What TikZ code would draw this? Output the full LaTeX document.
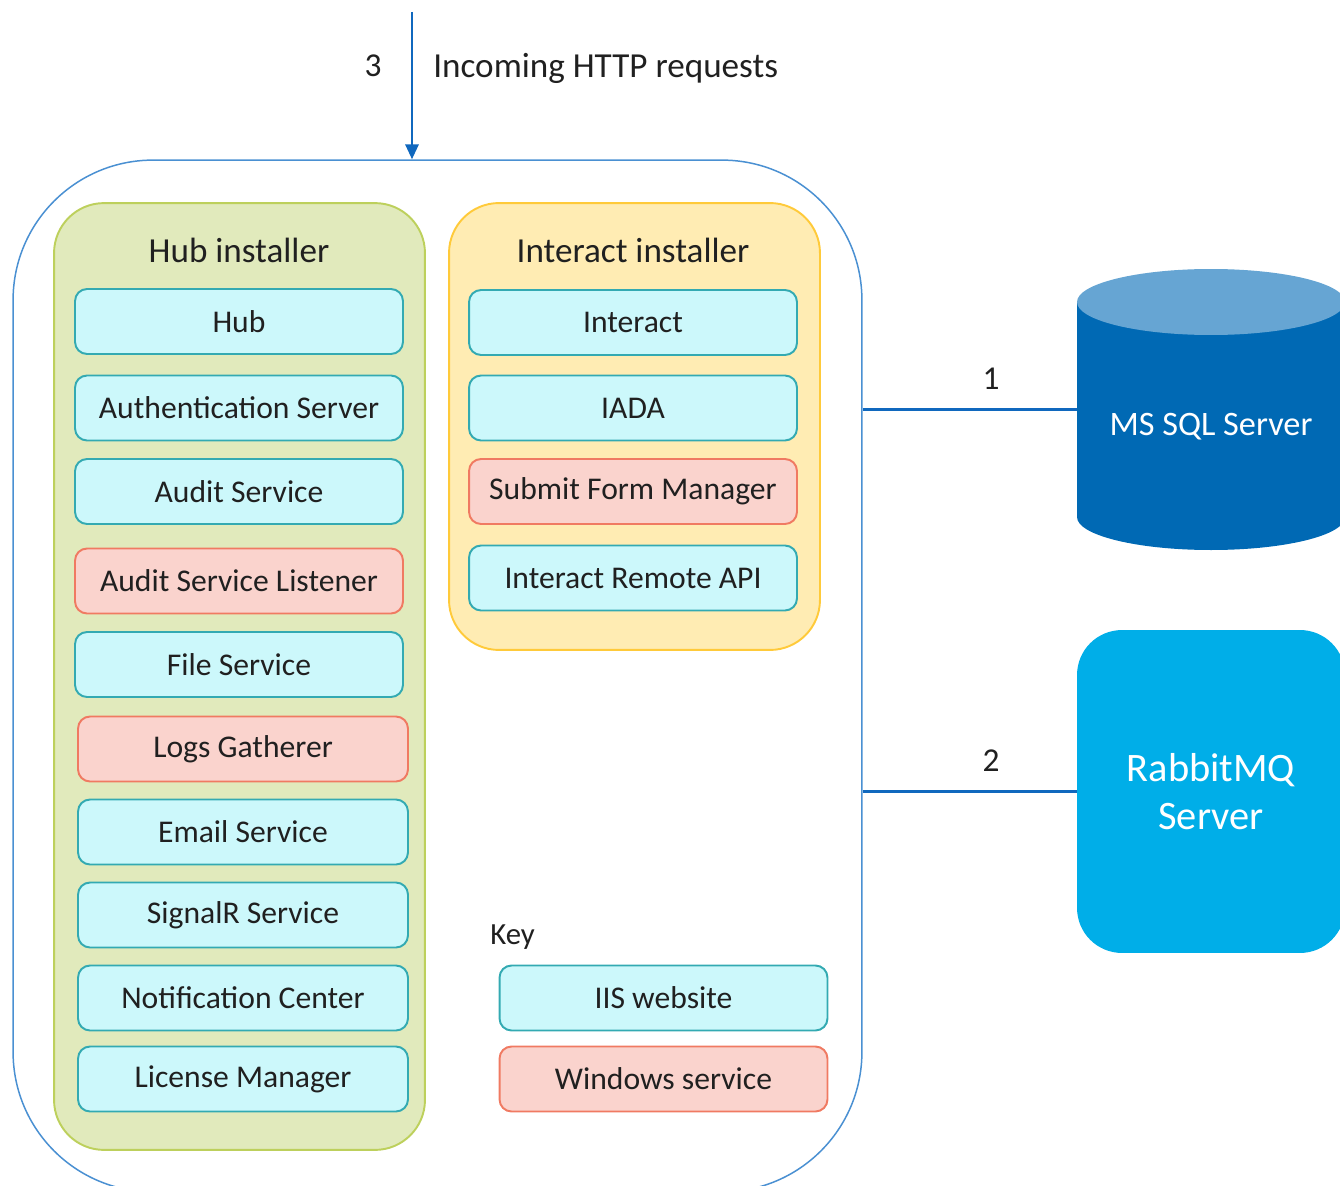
\documentclass[tikz,border=0pt]{standalone}
\usepackage{fontspec}
\setmainfont{Carlito}
\usetikzlibrary{arrows.meta,
  positioning,
  shapes
}

\definecolor{iisfill}{HTML}{CCF8FB}
\definecolor{iisdraw}{HTML}{33AAB2}
\definecolor{winfill}{HTML}{FAD3CD}
\definecolor{windraw}{HTML}{F07A62}
\definecolor{hubfill}{HTML}{E1EABC}
\definecolor{hubdraw}{HTML}{BDD05C}
\definecolor{intfill}{HTML}{FFECB3}
\definecolor{intdraw}{HTML}{FFCA3A}
\definecolor{outerblue}{HTML}{4A90D2}
\definecolor{linkblue}{HTML}{1068BE}
\definecolor{sqlbody}{HTML}{0069B4}
\definecolor{sqltop}{HTML}{66A5D3}
\definecolor{rabbitblue}{HTML}{00AEE8}
\definecolor{ink}{HTML}{202020}

\begin{document}
\begin{tikzpicture}[
  x=0.02cm, y=-0.02cm,
  every node/.style={text=ink},
  iis/.style={draw=iisdraw,fill=iisfill,line width=1.1pt,rounded corners=0.24cm,
    minimum width=6.56cm,minimum height=1.3cm,font=\fontsize{18}{21}\selectfont},
  winsvc/.style={iis,draw=windraw,fill=winfill},
  installer/.style={line width=1.1pt,rounded corners=1cm,minimum width=7.42cm},
  title/.style={font=\fontsize{20}{24}\selectfont},
  num/.style={font=\fontsize{19}{23}\selectfont,inner sep=0pt},
  link/.style={linkblue,line width=1.7pt}
  ]

  \useasboundingbox (0, 0) rectangle (1340, 1186);

  % host machine
  \node[draw=outerblue,line width=0.85pt,rounded corners=2.8cm,
  minimum width=16.98cm,minimum height=20.64cm] (outer) at (437.5, 676) {};

  % installers
  \node[installer,draw=hubdraw,fill=hubfill,minimum height=18.94cm]
  (hubinst) at (239.5, 676.5) {};
  \node[title] (hubtitle) at (239, 250) {Hub installer};

  \node[installer,draw=intdraw,fill=intfill,minimum height=8.94cm]
  (intinst) at (634.5, 426.5) {};
  \node[title] (inttitle) at (633, 250) {Interact installer};

  % hub components
  \node[iis] (hub) at (239, 321.5) {Hub};
  \node[iis] (auth) at (239, 408) {Authentication Server};
  \node[iis] (audit) at (239, 491.5) {Audit Service};
  \node[winsvc] (auditlsn) at (239, 581) {Audit Service Listener};
  \node[iis] (file) at (239, 664.5) {File Service};
  \node[winsvc,minimum width=6.6cm] (logs) at (243, 749) {Logs Gatherer};
  \node[iis,minimum width=6.6cm] (email) at (243, 832) {Email Service};
  \node[iis,minimum width=6.6cm] (signalr) at (243, 915) {SignalR Service};
  \node[iis,minimum width=6.6cm] (notif) at (243, 998) {Notification Center};
  \node[iis,minimum width=6.6cm] (license) at (243, 1079) {License Manager};

  % interact components
  \node[iis] (interact) at (633, 322.5) {Interact};
  \node[iis] (iada) at (633, 408) {IADA};
  \node[winsvc] (submit) at (633, 491.5) {Submit Form Manager};
  \node[iis] (remoteapi) at (633, 578) {Interact Remote API};

  % key
  \node[anchor=west,inner sep=0pt,font=\fontsize{17.5}{21}\selectfont]
  (keytitle) at (490, 937) {Key};
  \node[iis] (keyiis) at (663.5, 998) {IIS website};
  \node[winsvc] (keywin) at (663.5, 1079) {Windows service};

  % database
  \fill[sqlbody] (1077, 302) rectangle (1345, 517);
  \fill[sqlbody] (1211, 517) ellipse [x radius=134, y radius=33];
  \fill[sqltop] (1211, 302) ellipse [x radius=134, y radius=33];
  \node[minimum width=5.36cm,minimum height=4.3cm,inner sep=0pt] (sql) at (1211, 409.5) {};
  \node[text=white,font=\fontsize{19.5}{23}\selectfont] (sqllabel) at (1211, 427) {MS SQL Server};

  % message broker
  \node[fill=rabbitblue,rounded corners=0.9cm,minimum width=5.36cm,minimum height=6.46cm,
  text=white,align=center,font=\fontsize{23}{27.3}\selectfont]
  (rabbit) at (1211, 791.5) {RabbitMQ\\Server};

  % connections
  \draw[link] (sql.west) -- node[num,pos=0.4,above=0.38cm] {1} (outer.east |- sql.west);
  \draw[link] (rabbit.west) -- node[num,pos=0.4,above=0.38cm] {2} (outer.east |- rabbit.west);

  \coordinate (httpin) at (412, 12);
  \draw[link,-{Triangle[length=0.3cm,width=0.26cm]}] (httpin) -- (httpin |- outer.north);
  \node[num] (httplbl) at (373, 66) {3};
  \node[num,anchor=west,font=\fontsize{20}{24}\selectfont] (httptext) at (433, 68) {Incoming HTTP requests};
\end{tikzpicture}
\end{document}
